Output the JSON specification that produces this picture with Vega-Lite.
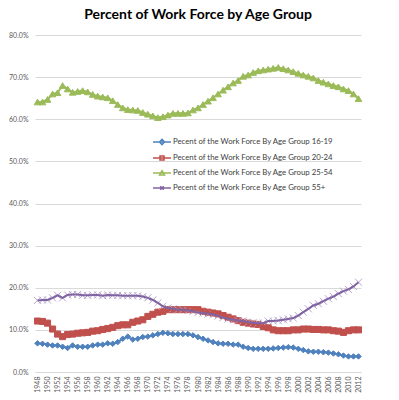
{
  "$schema": "https://vega.github.io/schema/vega-lite/v6.json",
  "width": 326,
  "height": 337,
  "autosize": "none",
  "padding": {"left": 35, "top": 35, "right": 38, "bottom": 28},
  "background": "white",
  "title": {"text": "Percent of Work Force by Age Group", "fontSize": 14, "font": "Lato", "fontWeight": "bold", "color": "#000000", "offset": 9, "anchor": "middle"},
  "data": {"values": [
    {"year":1948,"16-19":6.8,"20-24":12.1,"25-54":64.1,"55+":17.0},
    {"year":1949,"16-19":6.7,"20-24":12.0,"25-54":64.1,"55+":17.1},
    {"year":1950,"16-19":6.5,"20-24":11.6,"25-54":64.7,"55+":17.1},
    {"year":1951,"16-19":6.3,"20-24":10.2,"25-54":66.0,"55+":17.6},
    {"year":1952,"16-19":6.3,"20-24":9.0,"25-54":66.3,"55+":18.2},
    {"year":1953,"16-19":6.0,"20-24":8.4,"25-54":68.0,"55+":17.6},
    {"year":1954,"16-19":5.7,"20-24":8.9,"25-54":67.2,"55+":18.3},
    {"year":1955,"16-19":6.3,"20-24":9.0,"25-54":66.4,"55+":18.4},
    {"year":1956,"16-19":6.0,"20-24":9.2,"25-54":66.6,"55+":18.4},
    {"year":1957,"16-19":6.0,"20-24":9.3,"25-54":66.8,"55+":18.2},
    {"year":1958,"16-19":6.0,"20-24":9.4,"25-54":66.5,"55+":18.2},
    {"year":1959,"16-19":6.3,"20-24":9.7,"25-54":65.9,"55+":18.3},
    {"year":1960,"16-19":6.5,"20-24":9.8,"25-54":65.5,"55+":18.3},
    {"year":1961,"16-19":6.5,"20-24":10.1,"25-54":65.3,"55+":18.1},
    {"year":1962,"16-19":6.8,"20-24":10.3,"25-54":65.1,"55+":18.3},
    {"year":1963,"16-19":6.7,"20-24":10.6,"25-54":64.4,"55+":18.2},
    {"year":1964,"16-19":7.1,"20-24":11.0,"25-54":63.5,"55+":18.2},
    {"year":1965,"16-19":7.9,"20-24":11.2,"25-54":62.7,"55+":18.1},
    {"year":1966,"16-19":8.4,"20-24":11.2,"25-54":62.3,"55+":18.1},
    {"year":1967,"16-19":7.7,"20-24":11.8,"25-54":62.2,"55+":18.1},
    {"year":1968,"16-19":7.9,"20-24":12.1,"25-54":62.1,"55+":18.1},
    {"year":1969,"16-19":8.3,"20-24":12.4,"25-54":61.6,"55+":17.9},
    {"year":1970,"16-19":8.4,"20-24":13.2,"25-54":61.2,"55+":17.6},
    {"year":1971,"16-19":8.7,"20-24":13.7,"25-54":60.8,"55+":17.1},
    {"year":1972,"16-19":9.0,"20-24":14.2,"25-54":60.4,"55+":16.4},
    {"year":1973,"16-19":9.3,"20-24":14.4,"25-54":60.6,"55+":15.6},
    {"year":1974,"16-19":9.2,"20-24":14.8,"25-54":61.0,"55+":15.2},
    {"year":1975,"16-19":9.0,"20-24":14.8,"25-54":61.4,"55+":15.0},
    {"year":1976,"16-19":9.0,"20-24":14.8,"25-54":61.4,"55+":14.8},
    {"year":1977,"16-19":9.0,"20-24":14.8,"25-54":61.4,"55+":14.8},
    {"year":1978,"16-19":9.0,"20-24":14.8,"25-54":61.5,"55+":14.6},
    {"year":1979,"16-19":8.7,"20-24":14.8,"25-54":62.2,"55+":14.4},
    {"year":1980,"16-19":8.3,"20-24":14.8,"25-54":62.7,"55+":14.1},
    {"year":1981,"16-19":7.9,"20-24":14.4,"25-54":63.5,"55+":14.0},
    {"year":1982,"16-19":7.5,"20-24":14.2,"25-54":64.3,"55+":13.8},
    {"year":1983,"16-19":7.1,"20-24":14.0,"25-54":65.1,"55+":13.7},
    {"year":1984,"16-19":6.8,"20-24":13.8,"25-54":66.0,"55+":13.3},
    {"year":1985,"16-19":6.7,"20-24":13.4,"25-54":66.9,"55+":12.9},
    {"year":1986,"16-19":6.7,"20-24":13.0,"25-54":67.7,"55+":12.6},
    {"year":1987,"16-19":6.5,"20-24":12.6,"25-54":68.6,"55+":12.4},
    {"year":1988,"16-19":6.5,"20-24":12.2,"25-54":69.2,"55+":12.2},
    {"year":1989,"16-19":6.0,"20-24":11.8,"25-54":70.2,"55+":12.1},
    {"year":1990,"16-19":5.7,"20-24":11.6,"25-54":70.5,"55+":11.8},
    {"year":1991,"16-19":5.5,"20-24":11.4,"25-54":71.1,"55+":11.7},
    {"year":1992,"16-19":5.5,"20-24":11.3,"25-54":71.5,"55+":11.6},
    {"year":1993,"16-19":5.5,"20-24":10.8,"25-54":71.7,"55+":11.6},
    {"year":1994,"16-19":5.5,"20-24":10.5,"25-54":71.9,"55+":12.1},
    {"year":1995,"16-19":5.6,"20-24":10.0,"25-54":72.1,"55+":12.1},
    {"year":1996,"16-19":5.7,"20-24":9.8,"25-54":72.3,"55+":12.2},
    {"year":1997,"16-19":5.8,"20-24":9.8,"25-54":72.0,"55+":12.4},
    {"year":1998,"16-19":5.9,"20-24":9.8,"25-54":71.7,"55+":12.6},
    {"year":1999,"16-19":5.8,"20-24":10.0,"25-54":71.3,"55+":12.8},
    {"year":2000,"16-19":5.5,"20-24":10.0,"25-54":70.9,"55+":13.4},
    {"year":2001,"16-19":5.2,"20-24":10.2,"25-54":70.5,"55+":14.2},
    {"year":2002,"16-19":4.9,"20-24":10.2,"25-54":70.2,"55+":15.0},
    {"year":2003,"16-19":4.8,"20-24":10.1,"25-54":69.8,"55+":15.8},
    {"year":2004,"16-19":4.8,"20-24":10.1,"25-54":69.2,"55+":16.2},
    {"year":2005,"16-19":4.7,"20-24":10.0,"25-54":68.8,"55+":16.8},
    {"year":2006,"16-19":4.6,"20-24":10.0,"25-54":68.4,"55+":17.4},
    {"year":2007,"16-19":4.4,"20-24":9.8,"25-54":68.0,"55+":17.9},
    {"year":2008,"16-19":4.2,"20-24":9.7,"25-54":67.7,"55+":18.6},
    {"year":2009,"16-19":3.9,"20-24":9.4,"25-54":67.2,"55+":19.2},
    {"year":2010,"16-19":3.7,"20-24":9.8,"25-54":66.8,"55+":19.6},
    {"year":2011,"16-19":3.7,"20-24":10.0,"25-54":66.0,"55+":20.3},
    {"year":2012,"16-19":3.7,"20-24":10.0,"25-54":64.9,"55+":21.3}
  ]},
  "transform": [{"fold": ["16-19", "20-24", "25-54", "55+"], "as": ["series", "value"]}],
  "encoding": {
    "x": {"field": "year", "type": "quantitative",
      "scale": {"domain": [1947.5, 2012.5], "nice": false, "zero": false},
      "axis": {"values": [1948,1950,1952,1954,1956,1958,1960,1962,1964,1966,1968,1970,1972,1974,1976,1978,1980,1982,1984,1986,1988,1990,1992,1994,1996,1998,2000,2002,2004,2006,2008,2010,2012],
        "format": "d", "labelAngle": -90, "grid": false, "ticks": false, "domainColor": "#D9D9D9", "domainWidth": 1,
        "labelFontSize": 7, "labelFont": "Lato", "labelColor": "#595959", "labelPadding": 4, "title": null, "labelOverlap": false, "labelBound": false, "labelFlush": false}},
    "y": {"field": "value", "type": "quantitative",
      "scale": {"domain": [0, 80], "nice": false},
      "axis": {"values": [0,10,20,30,40,50,60,70,80], "labelExpr": "format(datum.value, '.1f') + '%'",
        "domain": false, "ticks": false, "grid": true, "gridColor": "#D9D9D9", "gridWidth": 1,
        "labelFontSize": 7, "labelFont": "Lato", "labelColor": "#595959", "labelPadding": 7, "title": null}}
  },
  "layer": [
    {"mark": {"type": "point", "filled": true, "strokeWidth": 1, "opacity": 1},
     "encoding": {
       "color": {"field": "series", "type": "nominal", "scale": {"domain": ["16-19","20-24","25-54","55+"], "range": ["#4F81BD","#C0504D","#9BBB59","#8064A2"]}, "legend": null},
       "stroke": {"field": "series", "type": "nominal", "scale": {"domain": ["16-19","20-24","25-54","55+"], "range": ["#4F81BD","#C0504D","#9BBB59","#B9A7D0"]}, "legend": null},
       "shape": {"field": "series", "type": "nominal", "scale": {"domain": ["16-19","20-24","25-54","55+"], "range": ["diamond","square","triangle-up","M-1,-1L1,1M-1,1L1,-1"]}, "legend": null},
       "size": {"field": "series", "type": "ordinal", "scale": {"domain": ["16-19","20-24","25-54","55+"], "range": [30,50,42,22]}, "legend": null}
     }},
    {"mark": {"type": "line", "strokeWidth": 2},
     "encoding": {
       "color": {"field": "series", "type": "nominal", "scale": {"domain": ["16-19","20-24","25-54","55+"], "range": ["#4F81BD","#C0504D","#9BBB59","#8064A2"]}, "legend": null}
     }},
    {"mark": {"type": "point", "filled": false, "opacity": 0, "size": 100, "strokeWidth": 1.5},
     "encoding": {
       "color": {"field": "series", "type": "nominal", "scale": {"domain": ["16-19","20-24","25-54","55+"], "range": ["#4F81BD","#C0504D","#9BBB59","#8064A2"]},
         "legend": {"title": null, "orient": "none", "legendX": 121, "legendY": 101, "padding": 0, "rowPadding": 4, "labelOffset": 5, "symbolOpacity": 1, "symbolStrokeWidth": 1.5, "symbolSize": 100, "labelFontSize": 7.8, "labelFont": "Lato", "labelColor": "#404040", "labelLimit": 300,
           "labelExpr": "'Pecent of the Work Force By Age Group ' + datum.label"}},
       "shape": {"field": "series", "type": "nominal", "scale": {"domain": ["16-19","20-24","25-54","55+"], "range": [
           "M-1.8,0L1.8,0M0,-0.55L0.5,0L0,0.55L-0.5,0Z",
           "M-1.8,0L1.8,0M-0.4,-0.4L0.4,-0.4L0.4,0.4L-0.4,0.4Z",
           "M-1.8,0L1.8,0M0,-0.45L0.5,0.4L-0.5,0.4Z",
           "M-1.8,0L1.8,0M-0.35,-0.35L0.35,0.35M-0.35,0.35L0.35,-0.35"]},
         "legend": {"title": null, "orient": "none", "legendX": 121, "legendY": 101, "padding": 0, "rowPadding": 4, "labelOffset": 5, "symbolOpacity": 1, "symbolStrokeWidth": 1.5, "symbolSize": 100, "labelFontSize": 7.8, "labelFont": "Lato", "labelColor": "#404040", "labelLimit": 300,
           "labelExpr": "'Pecent of the Work Force By Age Group ' + datum.label"}}
     }}
  ],
  "resolve": {"scale": {"color": "independent", "shape": "independent", "size": "independent", "stroke": "independent"}},
  "config": {"view": {"stroke": null}}
}
